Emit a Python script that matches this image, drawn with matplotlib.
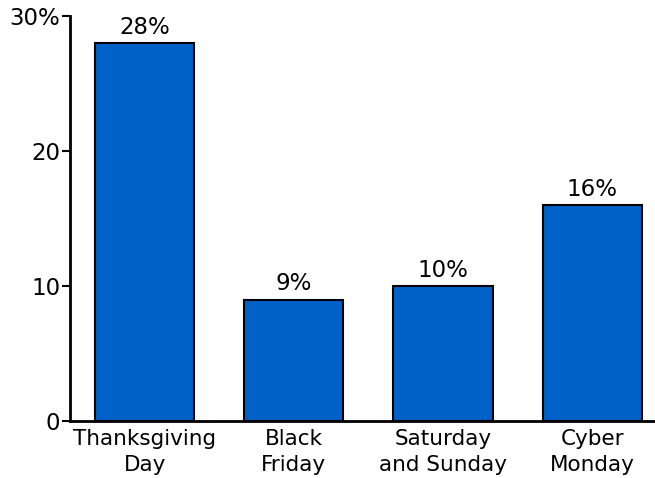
import matplotlib
matplotlib.use("Agg")
import matplotlib.pyplot as plt

categories = ["Thanksgiving\nDay", "Black\nFriday", "Saturday\nand Sunday", "Cyber\nMonday"]
values = [28, 9, 10, 16]
ytick_values = [0, 10, 20, 30]
ytick_labels = ["0", "10", "20", "30%"]

plt.rcParams["font.family"] = ["DejaVu Sans"]

W, H = 655, 478
FS_NUM = 16.5
FS_CAT = 15.5
fig = plt.figure(figsize=(W / 100, H / 100), dpi=100)
ax = fig.add_axes([70 / W, (H - 421) / H, (W - 70) / W, (421 - 16) / H])

x = list(range(len(values)))
ax.bar(x, values, width=0.665, color="#0062C9", edgecolor="black", linewidth=1.5, zorder=2)

for xi, v in zip(x, values):
    ax.text(xi, v + 0.3, f"{v}%", ha="center", va="bottom", fontsize=FS_NUM, color="black")

ax.set_xlim(-0.5, 3.42)
ax.set_ylim(0, 30)
ax.set_yticks(ytick_values)
ax.set_yticklabels(ytick_labels, fontsize=FS_NUM)
ax.set_xticks(x)
ax.set_xticklabels(categories, fontsize=FS_CAT, linespacing=1.35)
ax.tick_params(axis="x", length=0, pad=6)
ax.tick_params(axis="y", length=6, width=1.5, pad=1)

for side in ("top", "right"):
    ax.spines[side].set_visible(False)
for side in ("left", "bottom"):
    ax.spines[side].set_linewidth(2)

fig.savefig("out.png", dpi=100)
